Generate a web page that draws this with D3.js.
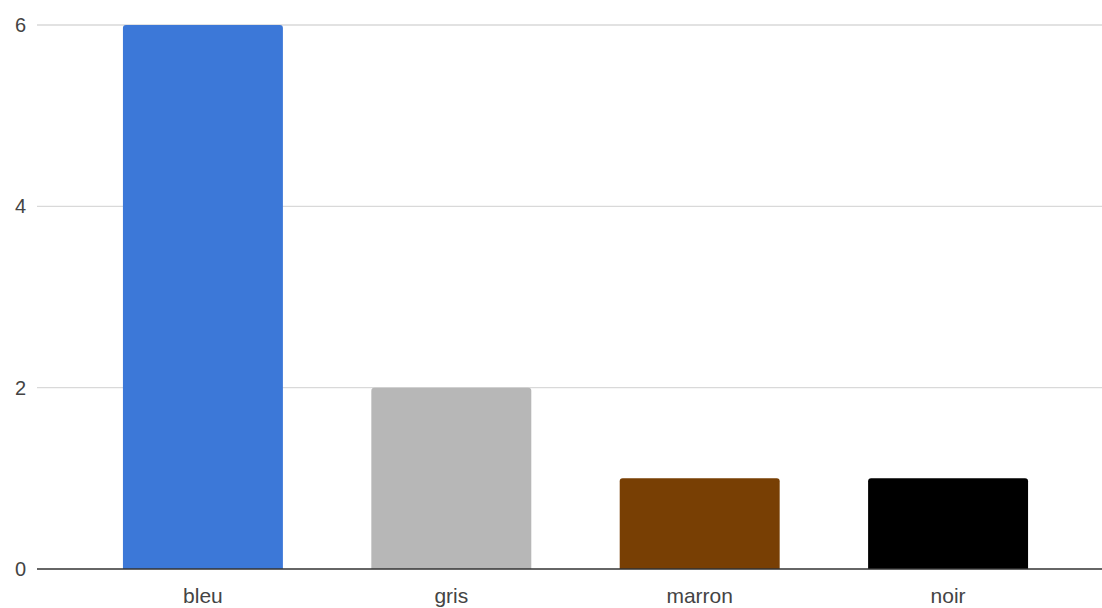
<!DOCTYPE html>
<html><head><meta charset="utf-8">
<script src="https://cdn.jsdelivr.net/npm/d3@7"></script>
<style>html,body{margin:0;padding:0;background:#fff;}</style>
</head><body>
<svg id="c" width="1102" height="608"></svg>
<script>
const categories = ["bleu", "gris", "marron", "noir"];
const values = [6, 2, 1, 1];
const barColors = ["#3c78d8", "#b7b7b7", "#783f04", "#000000"];
const yTicks = [0, 2, 4, 6];

const svg = d3.select("#c");
const x = d3.scaleBand().domain(categories).range([37, 1114]).paddingInner(0.356).paddingOuter(0.346);
const y = d3.scaleLinear().domain([0, 6]).range([569, 25]);

// gridlines
svg.append("g").selectAll("line").data(yTicks.filter(d => d !== 0)).join("line")
  .attr("x1", 37).attr("x2", 1102)
  .attr("y1", d => y(d)).attr("y2", d => y(d))
  .attr("stroke", "#d9d9d9").attr("stroke-width", 1.3);

// y labels
svg.append("g").selectAll("text").data(yTicks).join("text")
  .attr("x", 26).attr("y", d => y(d)).attr("dy", "0.35em")
  .attr("text-anchor", "end")
  .attr("font-family", "'Liberation Sans', Arial, sans-serif").attr("font-size", 20)
  .attr("fill", "#444").text(d => d);

// bars with rounded top corners
const r = 3;
svg.append("g").selectAll("path").data(categories).join("path")
  .attr("d", (c, i) => {
    const x0 = x(c), w = x.bandwidth(), yt = y(values[i]), yb = y(0);
    return `M${x0},${yb}V${yt + r}Q${x0},${yt} ${x0 + r},${yt}H${x0 + w - r}Q${x0 + w},${yt} ${x0 + w},${yt + r}V${yb}Z`;
  })
  .attr("fill", (c, i) => barColors[i]);

// baseline
svg.append("line").attr("x1", 37).attr("x2", 1102).attr("y1", y(0)).attr("y2", y(0))
  .attr("stroke", "#333").attr("stroke-width", 1.5);

// x labels
svg.append("g").selectAll("text").data(categories).join("text")
  .attr("x", c => x(c) + x.bandwidth() / 2).attr("y", 603)
  .attr("text-anchor", "middle")
  .attr("font-family", "'Liberation Sans', Arial, sans-serif").attr("font-size", 21)
  .attr("fill", "#444").text(c => c);
</script>
</body></html>
